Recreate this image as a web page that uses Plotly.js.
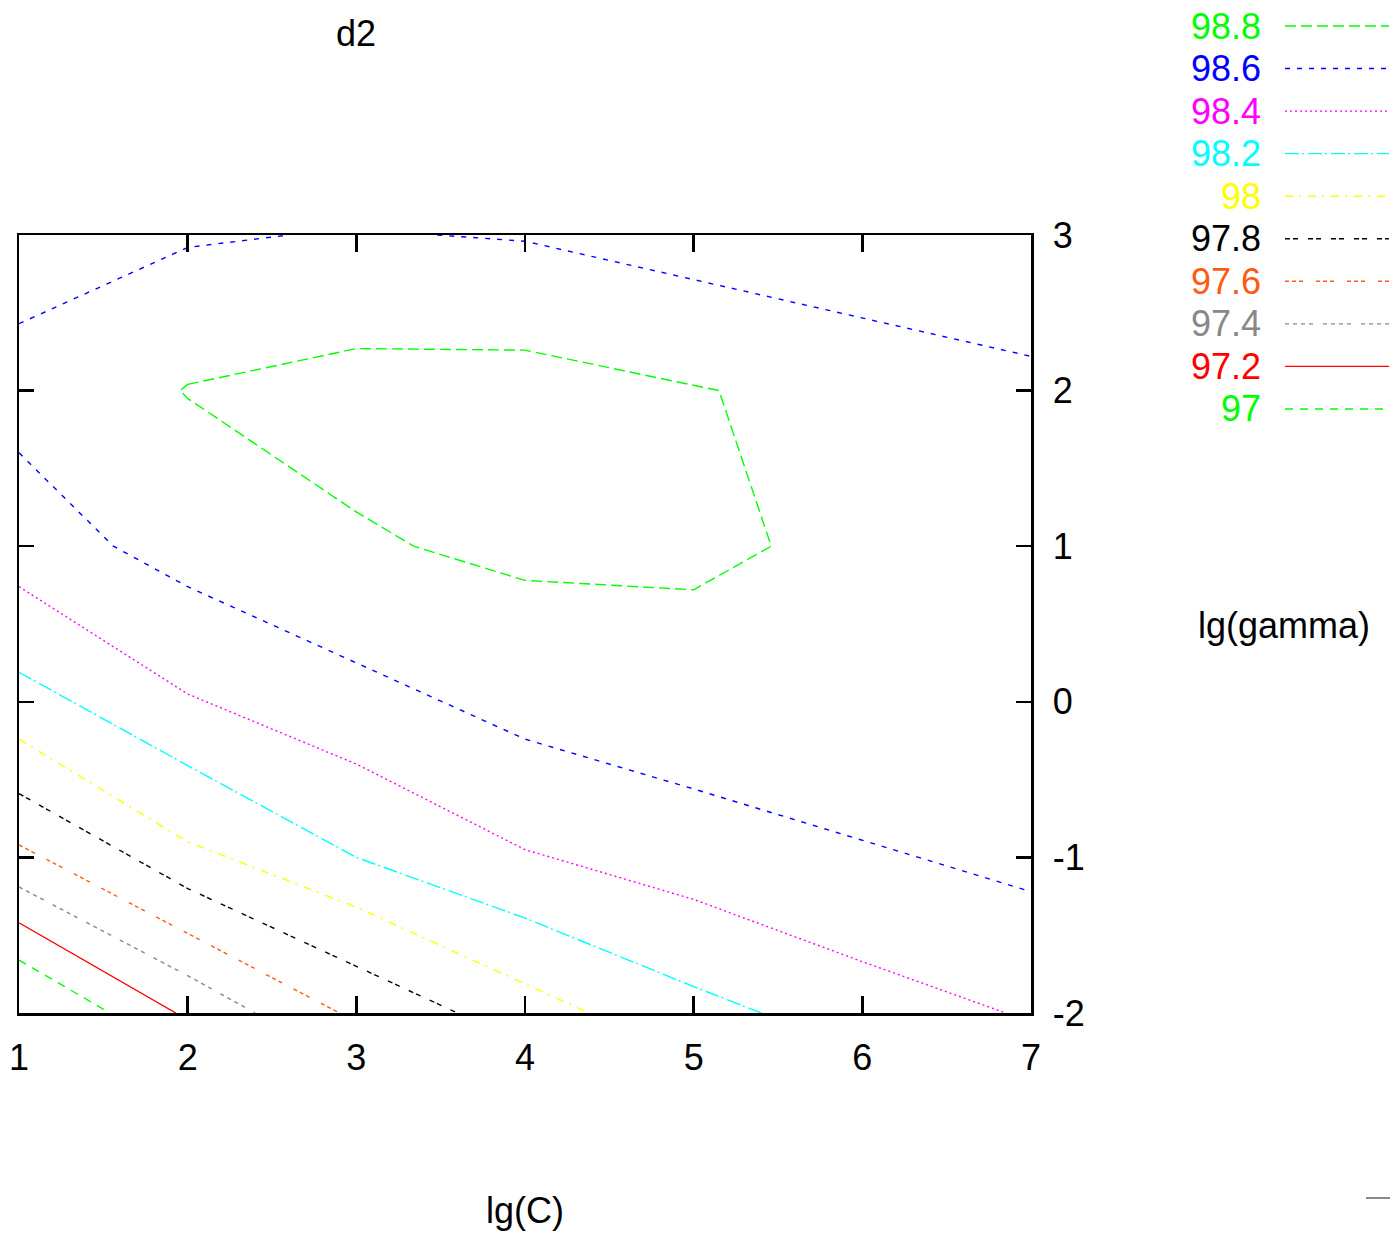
<!DOCTYPE html>
<html>
<head>
<meta charset="utf-8">
<script src="https://cdn.plot.ly/plotly-3.0.1.min.js"></script>
<style>html,body{margin:0;padding:0;background:#fff;}#chart{width:1390px;height:1234px;}</style>
</head>
<body>
<div id="chart"></div>
<script>
// Contour levels (legend order)
const levels = ['98.8', '98.6', '98.4', '98.2', '98', '97.8', '97.6', '97.4', '97.2', '97'];

// Contour polylines (x = lg(C), y = lg(gamma)); null separates pieces
const c988X = [2.0, 3.0, 4.0, 5.15, 5.46, 5.0, 4.0, 3.34, 3.0, 2.0, 1.955, 2.0];
const c988Y = [2.04, 2.27, 2.26, 2.0, 1.0, 0.72, 0.78, 1.0, 1.22, 1.95, 2.0, 2.04];
const c986X = [1.0, 2.0, 2.6, null, 3.48, 4.0, 7.0, null, 1.0, 1.56, 2.0, 3.0, 4.0, 5.0, 6.0, 7.0];
const c986Y = [2.43, 2.92, 3.0, null, 3.0, 2.96, 2.22, null, 1.60, 1.0, 0.74, 0.25, -0.24, -0.56, -0.89, -1.22];
const c984X = [1.0, 2.0, 3.0, 4.0, 5.0, 6.0, 6.85];
const c984Y = [0.74, 0.05, -0.40, -0.95, -1.27, -1.67, -2.0];
const c982X = [1.0, 2.0, 3.0, 4.0, 5.0, 5.4];
const c982Y = [0.19, -0.41, -1.0, -1.39, -1.83, -2.0];
const c980X = [1.0, 2.0, 3.0, 4.0, 4.38];
const c980Y = [-0.24, -0.9, -1.32, -1.81, -2.0];
const c978X = [1.0, 2.0, 3.0, 3.6];
const c978Y = [-0.59, -1.2, -1.7, -2.0];
const c976X = [1.0, 2.0, 2.9];
const c976Y = [-0.92, -1.49, -2.0];
const c974X = [1.0, 2.0, 2.4];
const c974Y = [-1.19, -1.76, -2.0];
const c972X = [1.0, 1.93];
const c972Y = [-1.42, -2.0];
const c970X = [1.0, 1.54];
const c970Y = [-1.66, -2.0];

const xTicks = [1, 2, 3, 4, 5, 6, 7];
const yTicks = [-2, -1, 0, 1, 2, 3];

// Styles
const colors = ['#00ff00', '#0000ff', '#ff00ff', '#00ffff', '#ffff00', '#000000', '#ff5a14', '#888888', '#ff0000', '#00ff00'];
const dashes = ['11px,5px', '5px,7px', '2px,3px', '14px,3px,2px,4px', '8px,6px,2px,7px',
  '5px,3px,5px,10px', '4px,3px,4px,3px,4px,13px', '4px,4px,4px,4px,4px,4px,4px,10px', 'solid', '8px,7px'];

const xs = [c988X, c986X, c984X, c982X, c980X, c978X, c976X, c974X, c972X, c970X];
const ys = [c988Y, c986Y, c984Y, c982Y, c980Y, c978Y, c976Y, c974Y, c972Y, c970Y];

const LW = 1.4;
const traces = levels.map((lv, i) => ({
  type: 'scatter', mode: 'lines', name: lv,
  x: xs[i], y: ys[i], connectgaps: false,
  line: {color: colors[i], width: LW, dash: dashes[i]},
  showlegend: false, hoverinfo: 'skip'
}));

const FONT = 'Liberation Sans, Arial, Helvetica, sans-serif';
const W = 1390, H = 1234;
const L = 19, R = 359, T = 235, B = 221;
const pw = W - L - R, ph = H - T - B;
const px2x = p => (p - L) / pw;
const py2y = p => (H - B - p) / ph;

const annotations = [];
const shapes = [];
const rowTop = 26, rowStep = 42.55;
levels.forEach((lv, i) => {
  const yy = py2y(rowTop + i * rowStep);
  annotations.push({
    xref: 'paper', yref: 'paper', x: px2x(1263), y: yy, xanchor: 'right', yanchor: 'middle',
    text: lv, showarrow: false, font: {family: FONT, size: 36, color: colors[i]}
  });
  shapes.push({
    type: 'line', xref: 'paper', yref: 'paper', x0: px2x(1285), x1: px2x(1389), y0: yy, y1: yy,
    line: {color: colors[i], width: LW, dash: dashes[i]}
  });
});
annotations.push({
  xref: 'paper', yref: 'paper', x: px2x(1284), y: py2y(625), xanchor: 'center', yanchor: 'middle',
  text: 'lg(gamma)', showarrow: false, font: {family: FONT, size: 36, color: '#000'}
});
shapes.push({
  type: 'line', xref: 'paper', yref: 'paper', x0: px2x(1366), x1: px2x(1390), y0: py2y(1198), y1: py2y(1198),
  line: {color: '#888888', width: 2}
});

const layout = {
  width: W, height: H,
  margin: {l: L, r: R, t: T, b: B, pad: 0},
  paper_bgcolor: '#ffffff', plot_bgcolor: '#ffffff',
  font: {family: FONT, size: 36, color: '#000'},
  showlegend: false,
  title: {text: 'd2', xref: 'container', yref: 'container', x: 356 / W, y: 1 - 33 / H,
    xanchor: 'center', yanchor: 'middle', font: {family: FONT, size: 36, color: '#000'}},
  xaxis: {
    range: [1, 7], tickvals: xTicks, ticktext: xTicks.map(String),
    ticks: 'inside', ticklen: 17, tickwidth: 2.5, tickcolor: '#000',
    showline: true, linewidth: 2.5, linecolor: '#000', mirror: 'ticks',
    showgrid: false, zeroline: false, ticklabelstandoff: 11,
    tickfont: {family: FONT, size: 36, color: '#000'},
    title: {text: 'lg(C)', standoff: 121, font: {family: FONT, size: 36, color: '#000'}}
  },
  yaxis: {
    range: [-2, 3], tickvals: yTicks, ticktext: yTicks.map(String), side: 'right',
    ticks: 'inside', ticklen: 15, tickwidth: 2.5, tickcolor: '#000',
    showline: true, linewidth: 2.5, linecolor: '#000', mirror: 'ticks',
    showgrid: false, zeroline: false, ticklabelstandoff: 12,
    tickfont: {family: FONT, size: 36, color: '#000'}
  },
  annotations: annotations,
  shapes: shapes
};

Plotly.newPlot('chart', traces, layout, {staticPlot: true, displayModeBar: false});
</script>
</body>
</html>
